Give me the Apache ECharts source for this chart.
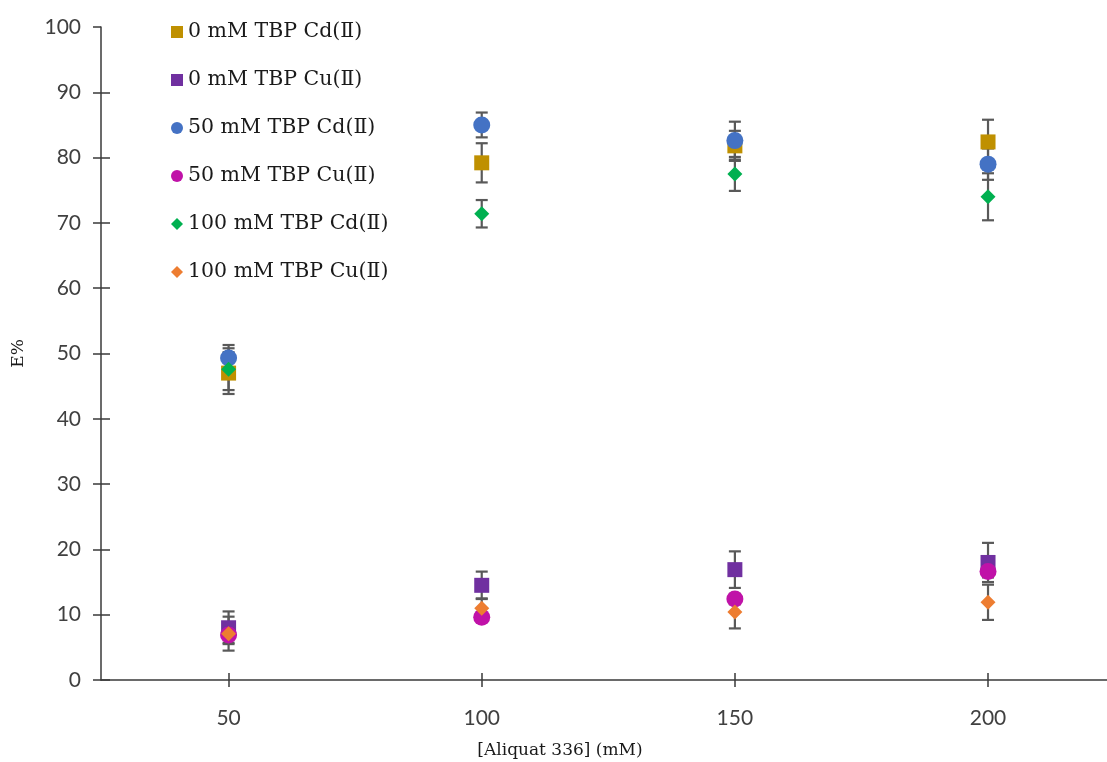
<!DOCTYPE html>
<html>
<head>
<meta charset="utf-8">
<script src="https://cdn.jsdelivr.net/npm/echarts@6/dist/echarts.min.js"></script>
<style>
  html, body { margin: 0; padding: 0; background: #fff; }
  #chart { width: 1107px; height: 762px; }
</style>
</head>
<body>
<div id="chart"></div>
<script>
// Aliquat 336 concentration (mM)
const aliquat = [50, 100, 150, 200];

// Extraction percentage E% and its error for each TBP level / metal
const cd0 = [47.0, 79.2, 81.8, 82.4];
const cd0Err = [3.2, 3.0, 2.3, 3.4];
const cu0 = [8.0, 14.5, 16.9, 18.0];
const cu0Err = [2.5, 2.1, 2.8, 3.0];
const cd50 = [49.3, 85.0, 82.6, 79.0];
const cd50Err = [2.0, 1.9, 2.9, 2.4];
const cu50 = [6.9, 9.6, 12.4, 16.6];
const cu50Err = [1.2, 0.5, 0.8, 0.9];
const cd100 = [47.6, 71.4, 77.5, 74.0];
const cd100Err = [3.2, 2.1, 2.6, 3.6];
const cu100 = [7.1, 11.0, 10.4, 11.9];
const cu100Err = [2.6, 1.5, 2.5, 2.7];

const seriesNames = [
  '0 mM TBP Cd(Ⅱ)', '0 mM TBP Cu(Ⅱ)',
  '50 mM TBP Cd(Ⅱ)', '50 mM TBP Cu(Ⅱ)',
  '100 mM TBP Cd(Ⅱ)', '100 mM TBP Cu(Ⅱ)'
];
const seriesValues = [cd0, cu0, cd50, cu50, cd100, cu100];
const seriesErrors = [cd0Err, cu0Err, cd50Err, cu50Err, cd100Err, cu100Err];
const seriesColors = ['#BF9000', '#7030A0', '#4472C4', '#C012A8', '#00B050', '#ED7D31'];
const seriesSymbols = ['rect', 'rect', 'circle', 'circle', 'diamond', 'diamond'];
const symbolSizes = [15, 15, 17, 17, 15, 15];

const xTicks = [50, 100, 150, 200];
const yTicks = [0, 10, 20, 30, 40, 50, 60, 70, 80, 90, 100];

const serif = '"DejaVu Serif", "Liberation Serif", serif';
const sans = 'Lato, "Open Sans", "Noto Sans", sans-serif';
const axisColor = '#3a3a3a';
const errColor = '#595959';

// Vertical error bar with caps
function renderErrorBar(params, api) {
  const x = api.value(0);
  const lo = api.value(1);
  const hi = api.value(2);
  const pHi = api.coord([x, hi]);
  const pLo = api.coord([x, lo]);
  const cap = 6;
  const style = { stroke: errColor, lineWidth: 2.2, fill: null };
  return {
    type: 'group',
    children: [
      { type: 'line', shape: { x1: pHi[0], y1: pHi[1], x2: pLo[0], y2: pLo[1] }, style },
      { type: 'line', shape: { x1: pHi[0] - cap, y1: pHi[1], x2: pHi[0] + cap, y2: pHi[1] }, style },
      { type: 'line', shape: { x1: pLo[0] - cap, y1: pLo[1], x2: pLo[0] + cap, y2: pLo[1] }, style }
    ]
  };
}

const series = [];
seriesNames.forEach((name, i) => {
  const vals = seriesValues[i];
  const errs = seriesErrors[i];
  series.push({
    name: name + ' error',
    type: 'custom',
    renderItem: renderErrorBar,
    encode: { x: 0, y: [1, 2] },
    data: aliquat.map((x, k) => [x, vals[k] - errs[k], vals[k] + errs[k]]),
    silent: true,
    z: 2
  });
  series.push({
    name: name,
    type: 'scatter',
    symbol: seriesSymbols[i],
    symbolSize: symbolSizes[i],
    itemStyle: { color: seriesColors[i], opacity: 1 },
    data: aliquat.map((x, k) => [x, vals[k]]),
    z: 3
  });
});

const chart = echarts.init(document.getElementById('chart'), null, { renderer: 'canvas' });

chart.setOption({
  animation: false,
  backgroundColor: '#ffffff',
  grid: { left: 101, right: 0, top: 27, bottom: 82, containLabel: false, outerBoundsMode: 'none' },
  legend: {
    data: seriesNames.map((n, i) => ({ name: n, icon: seriesSymbols[i] })),
    orient: 'vertical',
    left: 166,
    top: 16,
    itemWidth: 12,
    itemHeight: 12,
    itemGap: 26,
    textStyle: { fontFamily: serif, fontSize: 20.5, color: '#1a1a1a', lineHeight: 22 },
    selectedMode: false
  },
  xAxis: [{
    type: 'value',
    min: 24.8,
    max: 223.5,
    name: '[Aliquat 336] (mM)',
    nameLocation: 'middle',
    nameGap: 62,
    nameTextStyle: { fontFamily: serif, fontSize: 17, color: '#1a1a1a', padding: [0, 88, 0, 0] },
    splitLine: { show: false },
    axisLine: { show: true, onZero: false, lineStyle: { color: axisColor, width: 1.5 } },
    axisTick: { show: true, customValues: xTicks, length: 7, lineStyle: { color: axisColor, width: 1.5 } },
    axisLabel: { customValues: xTicks, margin: 28, fontFamily: sans, fontSize: 21, color: '#404040' }
  }, {
    // inner half of the cross ticks
    type: 'value',
    min: 24.8,
    max: 223.5,
    position: 'bottom',
    splitLine: { show: false },
    axisLine: { show: false },
    axisTick: { show: true, inside: true, customValues: xTicks, length: 7, lineStyle: { color: axisColor, width: 1.5 } },
    axisLabel: { show: false }
  }],
  yAxis: [{
    type: 'value',
    min: 0,
    max: 100,
    interval: 10,
    name: 'E%',
    nameLocation: 'middle',
    nameGap: 74,
    nameTextStyle: { fontFamily: serif, fontSize: 17, color: '#1a1a1a' },
    splitLine: { show: false },
    axisLine: { show: true, onZero: false, lineStyle: { color: axisColor, width: 1.5 } },
    axisTick: { show: true, length: 8, lineStyle: { color: axisColor, width: 1.5 } },
    axisLabel: { margin: 20, fontFamily: sans, fontSize: 21, color: '#404040' }
  }, {
    // inner half of the cross ticks
    type: 'value',
    min: 0,
    max: 100,
    interval: 10,
    position: 'left',
    splitLine: { show: false },
    axisLine: { show: false },
    axisTick: { show: true, inside: true, customValues: yTicks.slice(0, -1), length: 9, lineStyle: { color: axisColor, width: 1.5 } },
    axisLabel: { show: false }
  }],
  series: series
});
</script>
</body>
</html>
